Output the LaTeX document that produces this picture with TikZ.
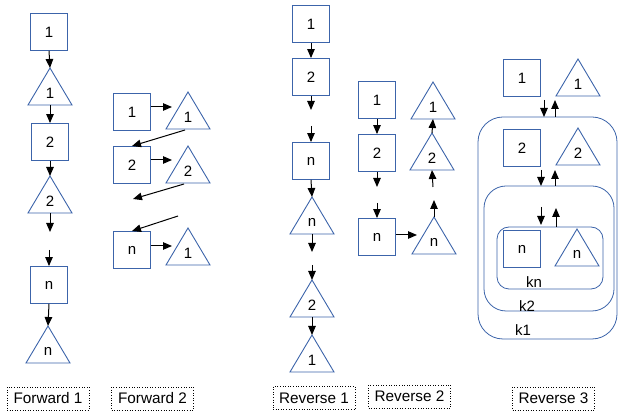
\documentclass[tikz,border=0pt]{standalone}
\usepackage{fontspec}
\setmainfont{Liberation Sans}
\usetikzlibrary{arrows.meta}
\definecolor{blu}{RGB}{60,100,170}
\newcommand\tri[4]{%
  \coordinate (#1-top) at (#2,#3);
  \coordinate (#1-bot) at (#2,#3+37);
  \draw[tribd] (#2,#3) -- (#2-22,#3+37) -- (#2+22,#3+37) -- cycle;
  \node[num] (#1) at (#2,#3+25) {#4};
}
\begin{document}
\begin{tikzpicture}[x=1pt,y=-1pt,
  sq/.style={draw=blu, line width=0.9pt, minimum size=37pt, inner sep=0pt, font=\fontsize{15}{17}\selectfont},
  tribd/.style={draw=blu, line width=0.9pt, line join=miter},
  num/.style={inner sep=0pt, font=\fontsize{15}{17}\selectfont},
  arr/.style={-{Triangle[length=9pt,width=7.5pt]}, line width=1pt},
  lab/.style={draw, dotted, line width=0.6pt, minimum width=82pt, minimum height=23pt, inner sep=0pt, font=\fontsize{15.3}{17}\selectfont},
  kbox/.style={draw=blu, line width=0.8pt},
  klab/.style={inner sep=0pt, font=\fontsize{15}{17}\selectfont}]
\useasboundingbox (0,0) rectangle (619,411);

% ---------- Forward 1 ----------
\node[sq] (a1) at (49,32) {1};
\tri{ta1}{50}{68}{1}
\node[sq] (a2) at (50,142) {2};
\tri{ta2}{50}{176}{2}
\coordinate (a3e) at (50,232);
\coordinate (a4s) at (49,250);
\node[sq] (an) at (49,285) {n};
\tri{tan}{48}{326}{n}
\draw[arr] (a1.south) -- (ta1-top);
\draw[arr] (ta1-bot) -- (a2.north);
\draw[arr] (a2.south) -- (ta2-top);
\draw[arr] (ta2-bot) -- (a3e);
\draw[arr] (a4s) -- (an.north);
\draw[arr] (an.south) -- (tan-top);
\node[lab] (lf1) at (48,398.5) {Forward 1};

% ---------- Forward 2 ----------
\node[sq] (b1) at (132,112) {1};
\tri{tb1}{188}{92}{1}
\node[sq] (b2) at (132,165) {2};
\tri{tb2}{188}{146}{2}
\node[sq] (bn) at (132,250) {n};
\tri{tbn}{188}{228}{1}
\coordinate (b1e) at (172,107);
\coordinate (b2e) at (172,160);
\coordinate (bne) at (172,246);
\coordinate (tb1o) at (185,130);
\coordinate (tb2o) at (184,184);
\coordinate (b3e) at (133,199);
\coordinate (b4s) at (178,216);
\draw[arr] (b1.east |- b1e) -- (b1e);
\draw[arr] (b2.east |- b2e) -- (b2e);
\draw[arr] (bn.east |- bne) -- (bne);
\draw[arr] (tb1o) -- (b2.north);
\draw[arr] (tb2o) -- (b3e);
\draw[arr] (b4s) -- (bn.north);
\node[lab] (lf2) at (152.5,398.5) {Forward 2};

% ---------- Reverse 1 ----------
\node[sq] (c1) at (311,24) {1};
\node[sq] (c2) at (311,77) {2};
\node[sq] (cn) at (311,161) {n};
\tri{tcn}{312}{197}{n}
\tri{tc2}{312}{280}{2}
\tri{tc1}{312}{335}{1}
\coordinate (c3e) at (311,110);
\coordinate (c4s) at (311,126);
\coordinate (c5e) at (312,252);
\coordinate (c6s) at (312,265);
\draw[arr] (c1.south) -- (c2.north);
\draw[arr] (c2.south) -- (c3e);
\draw[arr] (c4s) -- (cn.north);
\draw[arr] (cn.south) -- (tcn-top);
\draw[arr] (tcn-bot) -- (c5e);
\draw[arr] (c6s) -- (tc2-top);
\draw[arr] (tc2-bot) -- (tc1-top);
\node[lab] (lr1) at (314,398) {Reverse 1};

% ---------- Reverse 2 ----------
\node[sq] (d1) at (377,100) {1};
\node[sq] (d2) at (377,153) {2};
\node[sq] (dn) at (377,237) {n};
\tri{td1}{433}{82}{1}
\tri{td2}{432}{133}{2}
\tri{tdn}{434}{217}{n}
\coordinate (d3e) at (377,187);
\coordinate (d4s) at (377,203);
\coordinate (dne) at (417,235);
\coordinate (td3e) at (434,200);
\coordinate (td4s) at (433,187);
\draw[arr] (d1.south) -- (d2.north);
\draw[arr] (d2.south) -- (d3e);
\draw[arr] (d4s) -- (dn.north);
\draw[arr] (dn.east |- dne) -- (dne);
\draw[arr] (tdn-top) -- (td3e);
\draw[arr] (td4s) -- (td2-bot);
\draw[arr] (td2-top) -- (td1-bot);
\node[lab] (lr2) at (409.5,396.5) {Reverse 2};

% ---------- Reverse 3 ----------
\draw[kbox, rounded corners=25pt] (478,117) rectangle (617,339);
\draw[kbox, rounded corners=22pt] (484,186) rectangle (614,311);
\draw[kbox, rounded corners=12pt] (497,227) rectangle (603,289);
\node[sq] (e1) at (522,78) {1};
\tri{te1}{578}{59}{1}
\node[sq] (e2) at (522,148) {2};
\tri{te2}{578}{128}{2}
\node[sq] (en) at (522,249) {n};
\tri{ten}{577}{229}{n}
\coordinate (k1d0) at (544,100); \coordinate (k1d1) at (544,117);
\coordinate (k1u0) at (555,117); \coordinate (k1u1) at (555,100);
\coordinate (k2d0) at (541,170); \coordinate (k2d1) at (541,186);
\coordinate (k2u0) at (555,186); \coordinate (k2u1) at (555,170);
\coordinate (k3d0) at (541,207); \coordinate (k3d1) at (541,225);
\coordinate (k3u0) at (556,227); \coordinate (k3u1) at (556,208);
\draw[arr] (k1d0) -- (k1d1);
\draw[arr] (k1u0) -- (k1u1);
\draw[arr] (k2d0) -- (k2d1);
\draw[arr] (k2u0) -- (k2u1);
\draw[arr] (k3d0) -- (k3d1);
\draw[arr] (k3u0) -- (k3u1);
\node[klab] (kn) at (534,282) {kn};
\node[klab] (k2) at (527,306) {k2};
\node[klab] (k1) at (523,330) {k1};
\node[lab] (lr3) at (553.5,398.5) {Reverse 3};
\end{tikzpicture}
\end{document}
